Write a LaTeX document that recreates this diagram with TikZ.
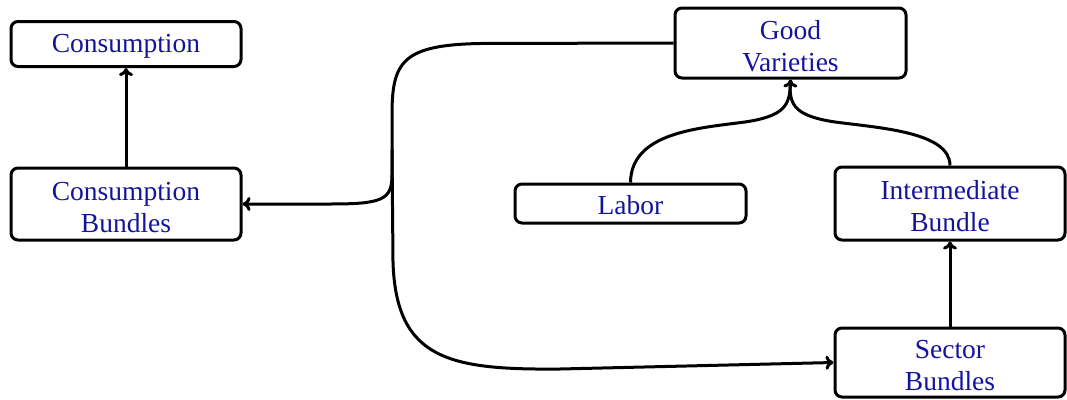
\documentclass[tikz,border=0pt]{standalone}
\usepackage{fontspec}
\setmainfont{Liberation Serif}
\usetikzlibrary{arrows.meta}
\definecolor{labelblue}{RGB}{20,20,155}
% text set a little low in its box, keeping the box size
\newcommand{\lowered}[2]{\raisebox{-#1}[\height][\depth]{#2}}
\newcommand{\twolines}[2]{\lowered{6pt}{\begin{tabular}{@{}c@{}}#1\\#2\end{tabular}}}
\begin{document}
\begin{tikzpicture}[x=1pt,y=-1pt,
  box/.style={draw, line width=3pt, rounded corners=7pt, minimum width=230pt,
    align=center, inner sep=0pt, text=labelblue,
    font=\fontsize{27.5}{32}\selectfont},
  link/.style={line width=3pt, -{To[length=8pt,width=14pt]}},
  plain/.style={line width=3pt}]
\useasboundingbox (0,0) rectangle (1067,399);

% boxes
\node[box, minimum height=45pt] (cons) at (126,44) {\lowered{2pt}{Consumption}};
\node[box, minimum height=72pt] (cb) at (126,204) {\twolines{Consumption}{Bundles}};
\node[box, minimum height=70pt, minimum width=231pt] (gv) at (790.5,43) {\twolines{Good}{Varieties}};
\node[box, minimum height=39pt, minimum width=231pt] (lab) at (630.5,203.5) {\lowered{2pt}{Labor}};
\node[box, minimum height=73pt] (ib) at (950,203.5) {\twolines{Intermediate}{Bundle}};
\node[box, minimum height=69pt] (sb) at (950,362.5) {\twolines{Sector}{Bundles}};

% split point of the good-varieties line
\coordinate (split) at (392,150);

% straight links
\draw[link] (cb.north) -- (cons.south);
\draw[link] (sb.north) -- (ib.south);

% labor and intermediate bundle feed good varieties
\draw[link] (lab.north) .. controls (631,132) and (700,128) .. (745,122)
  .. controls (785,116) and (790,105) .. (gv.south);
\draw[plain] (ib.north) .. controls (950,132) and (880,128) .. (835,122)
  .. controls (795,116) and (790,105) .. (790,86);

% good varieties to the bundles
\draw[plain] (gv.west) -- (480,43.5) .. controls (402,45) and (392,62) .. (392,115) -- (split);
\draw[link] (split) -- (392,175) .. controls (392,200) and (382,204) .. (330,204) -- (cb.east);
\draw[link] (split) -- (393,262) .. controls (396,360) and (450,370) .. (560,369) -- (sb.west);
\end{tikzpicture}
\end{document}
